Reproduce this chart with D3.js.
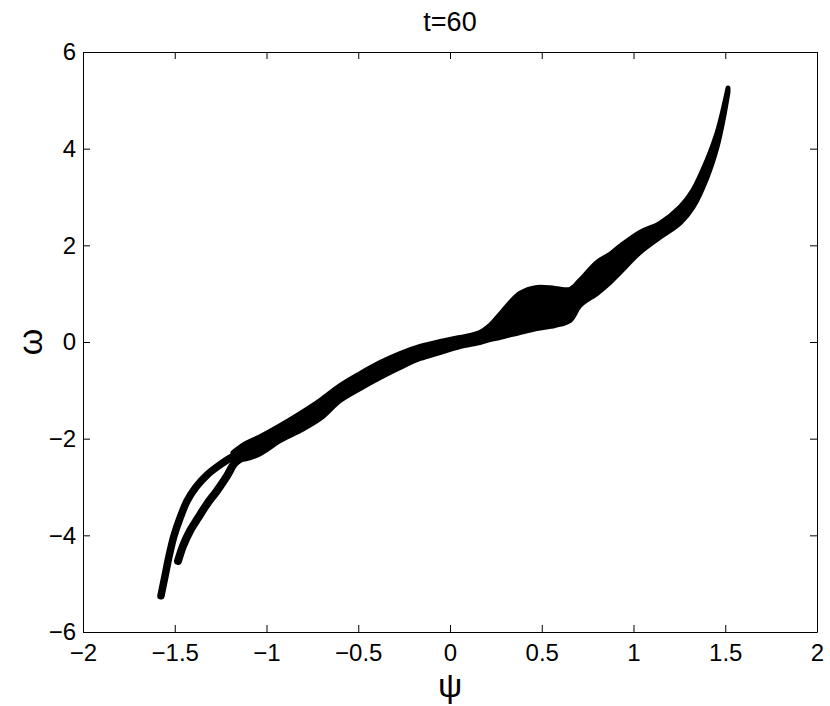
<!DOCTYPE html>
<html>
<head>
<meta charset="utf-8">
<script src="https://cdn.jsdelivr.net/npm/d3@7"></script>
<style>
  html, body { margin: 0; padding: 0; background: #fff; }
  svg { display: block; }
  text { font-family: "Liberation Sans", Arial, Helvetica, sans-serif; fill: #000; }
</style>
</head>
<body>
<svg id="chart" width="830" height="706"></svg>
<script>
// ---- data ----
const titleText = "t=60";
const xLabelText = "\u03c8";
const yLabelText = "\u03c9";
const xTicks = [-2, -1.5, -1, -0.5, 0, 0.5, 1, 1.5, 2];
const yTicks = [-6, -4, -2, 0, 2, 4, 6];

// main band (fork to top): psi with upper / lower omega edges
const bandPsi = [-1.183, -1.117, -1.035, -0.926, -0.817, -0.708, -0.599, -0.490, -0.381, -0.272, -0.163, -0.054, 0.054, 0.163, 0.218, 0.272, 0.381, 0.474, 0.572, 0.654, 0.708, 0.801, 0.872, 0.926, 1.035, 1.144, 1.253, 1.324, 1.401, 1.455, 1.488, 1.515];
const bandOmegaHigh = [-2.290, -2.110, -1.959, -1.731, -1.482, -1.212, -0.902, -0.653, -0.425, -0.238, -0.093, 0.010, 0.093, 0.197, 0.342, 0.570, 1.005, 1.130, 1.109, 1.088, 1.275, 1.648, 1.813, 1.979, 2.269, 2.456, 2.788, 3.140, 3.762, 4.321, 4.798, 5.254];
const bandOmegaLow = [-2.420, -2.420, -2.311, -2.041, -1.834, -1.585, -1.212, -0.964, -0.736, -0.528, -0.342, -0.218, -0.093, -0.010, 0.052, 0.093, 0.197, 0.280, 0.342, 0.446, 0.756, 1.005, 1.233, 1.440, 1.855, 2.166, 2.456, 2.788, 3.409, 4.031, 4.591, 5.171];

// lower-left outer branch
const branch1Psi = [-1.575, -1.553, -1.531, -1.504, -1.471, -1.433, -1.384, -1.324, -1.253, -1.183, -1.117];
const branch1Omega = [-5.25, -4.84, -4.43, -4.01, -3.64, -3.29, -3.00, -2.75, -2.54, -2.37, -2.27];
// lower-left inner branch
const branch2Psi = [-1.482, -1.455, -1.417, -1.373, -1.324, -1.270, -1.215, -1.172, -1.117];
const branch2Omega = [-4.53, -4.22, -3.91, -3.64, -3.35, -3.08, -2.77, -2.50, -2.36];

// ---- layout ----
const W = 830, H = 706;
const margin = { left: 83, right: 13, top: 52, bottom: 74 };
const svg = d3.select("#chart");
const x = d3.scaleLinear().domain([-2, 2]).range([margin.left, W - margin.right]);
const y = d3.scaleLinear().domain([-6, 6]).range([H - margin.bottom, margin.top]);

const plot = svg.append("g");

// band
const bandData = bandPsi.map((p, i) => ({ p, hi: bandOmegaHigh[i], lo: bandOmegaLow[i] }));
const area = d3.area()
  .x(d => x(d.p))
  .y0(d => y(d.lo))
  .y1(d => y(d.hi))
  .curve(d3.curveCatmullRom);
plot.append("path")
  .datum(bandData)
  .attr("d", area)
  .attr("fill", "#000")
  .attr("stroke", "#000")
  .attr("stroke-width", 5)
  .attr("stroke-linejoin", "round");

const line = d3.line().x(d => x(d.p)).y(d => y(d.o)).curve(d3.curveCatmullRom);
[[branch1Psi, branch1Omega, 7.5], [branch2Psi, branch2Omega, 8]].forEach(([ps, os, sw]) => {
  const data = ps.map((p, i) => ({ p, o: os[i] }));
  plot.append("path")
    .datum(data)
    .attr("d", line)
    .attr("fill", "none")
    .attr("stroke", "#000")
    .attr("stroke-width", sw)
    .attr("stroke-linecap", "round")
    .attr("stroke-linejoin", "round");
});

// axes box with inward ticks
const tickLen = 7;
const fontSize = 24;
const axG = svg.append("g");
const fmt = d => d3.format("")(d).replace("-", "\u2212");
const xAxisB = d3.axisBottom(x).tickValues(xTicks).tickSizeInner(-tickLen).tickSizeOuter(0).tickPadding(12).tickFormat(fmt);
const xAxisT = d3.axisTop(x).tickValues(xTicks).tickSizeInner(-tickLen).tickSizeOuter(0).tickFormat("");
const yAxisL = d3.axisLeft(y).tickValues(yTicks).tickSizeInner(-tickLen).tickSizeOuter(0).tickPadding(7).tickFormat(fmt);
const yAxisR = d3.axisRight(y).tickValues(yTicks).tickSizeInner(-tickLen).tickSizeOuter(0).tickFormat("");

const gB = axG.append("g").attr("transform", `translate(0,${H - margin.bottom})`).call(xAxisB);
const gT = axG.append("g").attr("transform", `translate(0,${margin.top})`).call(xAxisT);
const gL = axG.append("g").attr("transform", `translate(${margin.left},0)`).call(yAxisL);
const gR = axG.append("g").attr("transform", `translate(${W - margin.right},0)`).call(yAxisR);
[gB, gT, gL, gR].forEach(g => {
  g.selectAll("path.domain").attr("stroke", "#000").attr("stroke-width", 1);
  g.selectAll(".tick line").attr("stroke", "#000").attr("stroke-width", 1);
  g.selectAll("text").attr("font-size", fontSize).attr("font-family", "Liberation Sans, Arial, sans-serif").attr("fill", "#000");
});
gB.selectAll("text").attr("dy", "0.71em");

// title and labels
svg.append("text").attr("x", (margin.left + W - margin.right) / 2).attr("y", 31)
  .attr("text-anchor", "middle").attr("font-size", 27).text(titleText);
svg.append("text").attr("x", (margin.left + W - margin.right) / 2).attr("y", 697)
  .attr("text-anchor", "middle").attr("font-size", 34).attr("font-family", "DejaVu Sans").text(xLabelText);
svg.append("text").attr("transform", `translate(42,${(margin.top + H - margin.bottom) / 2}) rotate(-90)`)
  .attr("text-anchor", "middle").attr("font-size", 34).attr("font-family", "DejaVu Sans").text(yLabelText);
</script>
</body>
</html>
